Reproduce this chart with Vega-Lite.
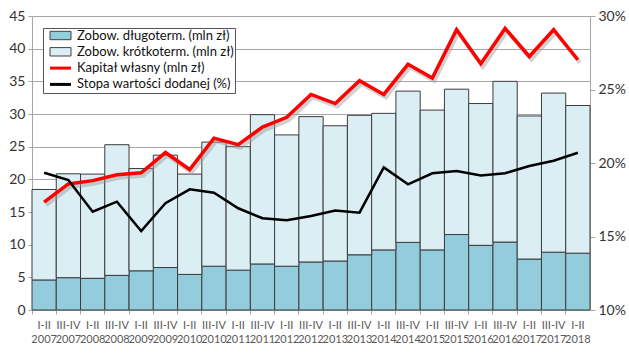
{
  "$schema": "https://vega.github.io/schema/vega-lite/v6.json",
  "width": 558,
  "height": 294,
  "autosize": {"type": "none"},
  "padding": {"left": 32, "top": 16, "right": 39, "bottom": 44},
  "background": "white",
  "config": {
    "view": {"stroke": null},
    "font": "Lato",
    "axis": {"labelFont": "Lato", "titleFont": "Lato"},
    "legend": {"labelFont": "Lato"}
  },
  "datasets": {
    "bars": [
      {"period": "I-II 2007", "series": "Zobow. długoterm. (mln zł)", "o": 0, "value": 4.6},
      {"period": "III-IV 2007", "series": "Zobow. długoterm. (mln zł)", "o": 0, "value": 4.95},
      {"period": "I-II 2008", "series": "Zobow. długoterm. (mln zł)", "o": 0, "value": 4.85},
      {"period": "III-IV 2008", "series": "Zobow. długoterm. (mln zł)", "o": 0, "value": 5.3},
      {"period": "I-II 2009", "series": "Zobow. długoterm. (mln zł)", "o": 0, "value": 6.0},
      {"period": "III-IV 2009", "series": "Zobow. długoterm. (mln zł)", "o": 0, "value": 6.5},
      {"period": "I-II 2010", "series": "Zobow. długoterm. (mln zł)", "o": 0, "value": 5.45},
      {"period": "III-IV 2010", "series": "Zobow. długoterm. (mln zł)", "o": 0, "value": 6.7},
      {"period": "I-II 2011", "series": "Zobow. długoterm. (mln zł)", "o": 0, "value": 6.1},
      {"period": "III-IV 2011", "series": "Zobow. długoterm. (mln zł)", "o": 0, "value": 7.05},
      {"period": "I-II 2012", "series": "Zobow. długoterm. (mln zł)", "o": 0, "value": 6.7},
      {"period": "III-IV 2012", "series": "Zobow. długoterm. (mln zł)", "o": 0, "value": 7.35},
      {"period": "I-II 2013", "series": "Zobow. długoterm. (mln zł)", "o": 0, "value": 7.5},
      {"period": "III-IV 2013", "series": "Zobow. długoterm. (mln zł)", "o": 0, "value": 8.45},
      {"period": "I-II 2014", "series": "Zobow. długoterm. (mln zł)", "o": 0, "value": 9.2},
      {"period": "III-IV 2014", "series": "Zobow. długoterm. (mln zł)", "o": 0, "value": 10.35},
      {"period": "I-II 2015", "series": "Zobow. długoterm. (mln zł)", "o": 0, "value": 9.2},
      {"period": "III-IV 2015", "series": "Zobow. długoterm. (mln zł)", "o": 0, "value": 11.55},
      {"period": "I-II 2016", "series": "Zobow. długoterm. (mln zł)", "o": 0, "value": 9.9},
      {"period": "III-IV 2016", "series": "Zobow. długoterm. (mln zł)", "o": 0, "value": 10.4},
      {"period": "I-II 2017", "series": "Zobow. długoterm. (mln zł)", "o": 0, "value": 7.8},
      {"period": "III-IV 2017", "series": "Zobow. długoterm. (mln zł)", "o": 0, "value": 8.85},
      {"period": "I-II 2018", "series": "Zobow. długoterm. (mln zł)", "o": 0, "value": 8.7},
      {"period": "I-II 2007", "series": "Zobow. krótkoterm. (mln zł)", "o": 1, "value": 13.85},
      {"period": "III-IV 2007", "series": "Zobow. krótkoterm. (mln zł)", "o": 1, "value": 15.9},
      {"period": "I-II 2008", "series": "Zobow. krótkoterm. (mln zł)", "o": 1, "value": 15.95},
      {"period": "III-IV 2008", "series": "Zobow. krótkoterm. (mln zł)", "o": 1, "value": 20.0},
      {"period": "I-II 2009", "series": "Zobow. krótkoterm. (mln zł)", "o": 1, "value": 15.65},
      {"period": "III-IV 2009", "series": "Zobow. krótkoterm. (mln zł)", "o": 1, "value": 17.2},
      {"period": "I-II 2010", "series": "Zobow. krótkoterm. (mln zł)", "o": 1, "value": 15.35},
      {"period": "III-IV 2010", "series": "Zobow. krótkoterm. (mln zł)", "o": 1, "value": 19.0},
      {"period": "I-II 2011", "series": "Zobow. krótkoterm. (mln zł)", "o": 1, "value": 18.9},
      {"period": "III-IV 2011", "series": "Zobow. krótkoterm. (mln zł)", "o": 1, "value": 22.85},
      {"period": "I-II 2012", "series": "Zobow. krótkoterm. (mln zł)", "o": 1, "value": 20.1},
      {"period": "III-IV 2012", "series": "Zobow. krótkoterm. (mln zł)", "o": 1, "value": 22.25},
      {"period": "I-II 2013", "series": "Zobow. krótkoterm. (mln zł)", "o": 1, "value": 20.7},
      {"period": "III-IV 2013", "series": "Zobow. krótkoterm. (mln zł)", "o": 1, "value": 21.35},
      {"period": "I-II 2014", "series": "Zobow. krótkoterm. (mln zł)", "o": 1, "value": 20.9},
      {"period": "III-IV 2014", "series": "Zobow. krótkoterm. (mln zł)", "o": 1, "value": 23.15},
      {"period": "I-II 2015", "series": "Zobow. krótkoterm. (mln zł)", "o": 1, "value": 21.4},
      {"period": "III-IV 2015", "series": "Zobow. krótkoterm. (mln zł)", "o": 1, "value": 22.25},
      {"period": "I-II 2016", "series": "Zobow. krótkoterm. (mln zł)", "o": 1, "value": 21.7},
      {"period": "III-IV 2016", "series": "Zobow. krótkoterm. (mln zł)", "o": 1, "value": 24.6},
      {"period": "I-II 2017", "series": "Zobow. krótkoterm. (mln zł)", "o": 1, "value": 21.9},
      {"period": "III-IV 2017", "series": "Zobow. krótkoterm. (mln zł)", "o": 1, "value": 24.35},
      {"period": "I-II 2018", "series": "Zobow. krótkoterm. (mln zł)", "o": 1, "value": 22.6}
    ],
    "equity": [
      {"period": "I-II 2007", "value": 16.5},
      {"period": "III-IV 2007", "value": 19.3},
      {"period": "I-II 2008", "value": 19.8},
      {"period": "III-IV 2008", "value": 20.7},
      {"period": "I-II 2009", "value": 21.0},
      {"period": "III-IV 2009", "value": 24.1},
      {"period": "I-II 2010", "value": 21.5},
      {"period": "III-IV 2010", "value": 26.3},
      {"period": "I-II 2011", "value": 25.3},
      {"period": "III-IV 2011", "value": 28.0},
      {"period": "I-II 2012", "value": 29.5},
      {"period": "III-IV 2012", "value": 33.0},
      {"period": "I-II 2013", "value": 31.6},
      {"period": "III-IV 2013", "value": 35.1},
      {"period": "I-II 2014", "value": 33.0},
      {"period": "III-IV 2014", "value": 37.6},
      {"period": "I-II 2015", "value": 35.5},
      {"period": "III-IV 2015", "value": 42.9},
      {"period": "I-II 2016", "value": 37.7},
      {"period": "III-IV 2016", "value": 43.1},
      {"period": "I-II 2017", "value": 38.8},
      {"period": "III-IV 2017", "value": 42.9},
      {"period": "I-II 2018", "value": 38.3}
    ],
    "rate": [
      {"period": "I-II 2007", "value": 19.34},
      {"period": "III-IV 2007", "value": 18.84},
      {"period": "I-II 2008", "value": 16.69},
      {"period": "III-IV 2008", "value": 17.37},
      {"period": "I-II 2009", "value": 15.37},
      {"period": "III-IV 2009", "value": 17.26},
      {"period": "I-II 2010", "value": 18.21},
      {"period": "III-IV 2010", "value": 17.98},
      {"period": "I-II 2011", "value": 16.92},
      {"period": "III-IV 2011", "value": 16.24},
      {"period": "I-II 2012", "value": 16.1},
      {"period": "III-IV 2012", "value": 16.4},
      {"period": "I-II 2013", "value": 16.76},
      {"period": "III-IV 2013", "value": 16.62},
      {"period": "I-II 2014", "value": 19.7},
      {"period": "III-IV 2014", "value": 18.55},
      {"period": "I-II 2015", "value": 19.3},
      {"period": "III-IV 2015", "value": 19.45},
      {"period": "I-II 2016", "value": 19.15},
      {"period": "III-IV 2016", "value": 19.3},
      {"period": "I-II 2017", "value": 19.8},
      {"period": "III-IV 2017", "value": 20.15},
      {"period": "I-II 2018", "value": 20.7}
    ]
  },
  "layer": [
    {
      "data": {"name": "bars"},
      "mark": {"type": "bar", "stroke": "#3c3c3c", "strokeWidth": 1},
      "encoding": {
        "x": {
          "field": "period", "type": "nominal", "sort": null,
          "scale": {"paddingInner": 0, "paddingOuter": 0},
          "axis": {
            "title": null, "labelAngle": 0,
            "labelExpr": "split(datum.value, ' ')",
            "labelFont": "Liberation Sans Narrow, Lato",
            "labelFontSize": 11, "labelColor": "#595959",
            "labelLineHeight": 14, "labelPadding": 5,
            "bandPosition": 0,
            "tickSize": 4, "tickColor": "#a6a6a6",
            "domainColor": "#a6a6a6"
          }
        },
        "y": {
          "field": "value", "type": "quantitative", "stack": "zero",
          "scale": {"domain": [0, 45], "nice": false},
          "axis": {
            "title": null, "values": [0, 5, 10, 15, 20, 25, 30, 35, 40, 45],
            "grid": true, "gridColor": "#a6a6a6",
            "domainColor": "#a6a6a6", "tickColor": "#a6a6a6", "tickSize": 4,
            "labelFontSize": 14, "labelColor": "#333333", "labelPadding": 3
          }
        },
        "order": {"field": "o", "type": "quantitative"},
        "color": {
          "field": "series", "type": "nominal",
          "scale": {
            "domain": ["Zobow. długoterm. (mln zł)", "Zobow. krótkoterm. (mln zł)", "Kapitał własny (mln zł)", "Stopa wartości dodanej (%)"],
            "range": ["#93CDDD", "#DBEEF4", "#FF0000", "#000000"]
          },
          "legend": {
            "title": null,
            "orient": "none", "legendX": 11, "legendY": 12,
            "strokeColor": "#555555", "fillColor": "white", "padding": 1,
            "labelFontSize": 13, "labelColor": "#111111", "labelLimit": 400,
            "symbolSize": 196, "symbolOffset": 10, "labelOffset": 10,
            "rowPadding": 2.3,
            "symbolType": "M-1.5,-0.6H1.5V0.6H-1.5Z",
            "symbolStrokeColor": "#404040",
            "symbolStrokeWidth": 1,
            "encode": {
              "symbols": {
                "update": {
                  "shape": {"signal": "(datum.value == 'Kapitał własny (mln zł)' || datum.value == 'Stopa wartości dodanej (%)') ? 'M-1.5,0H1.5' : 'M-1.5,-0.6H1.5V0.6H-1.5Z'"},
                  "fill": {"signal": "datum.value == 'Zobow. długoterm. (mln zł)' ? '#93CDDD' : datum.value == 'Zobow. krótkoterm. (mln zł)' ? '#DBEEF4' : 'transparent'"},
                  "stroke": {"signal": "datum.value == 'Kapitał własny (mln zł)' ? '#FF0000' : datum.value == 'Stopa wartości dodanej (%)' ? '#000000' : '#404040'"},
                  "strokeWidth": {"signal": "(datum.value == 'Kapitał własny (mln zł)' || datum.value == 'Stopa wartości dodanej (%)') ? 3 : 1"},
                  "opacity": {"value": 1}
                }
              }
            }
          }
        }
      }
    },
    {
      "data": {"name": "equity"},
      "mark": {"type": "line", "stroke": "#9a9a9a", "strokeWidth": 4, "opacity": 0.45, "xOffset": 2, "yOffset": 3},
      "encoding": {
        "x": {"field": "period", "type": "nominal", "sort": null},
        "y": {"field": "value", "type": "quantitative", "scale": {"domain": [0, 45], "nice": false}, "axis": null}
      }
    },
    {
      "data": {"name": "equity"},
      "mark": {"type": "line", "strokeWidth": 3.5, "stroke": "#FF0000"},
      "encoding": {
        "x": {"field": "period", "type": "nominal", "sort": null},
        "y": {"field": "value", "type": "quantitative", "scale": {"domain": [0, 45], "nice": false}, "axis": null}
      }
    },
    {
      "data": {"name": "rate"},
      "mark": {"type": "line", "strokeWidth": 2.5, "stroke": "#000000"},
      "encoding": {
        "x": {"field": "period", "type": "nominal", "sort": null},
        "y": {
          "field": "value", "type": "quantitative",
          "scale": {"domain": [10, 30], "nice": false},
          "axis": {
            "title": null, "orient": "right", "values": [10, 15, 20, 25, 30],
            "labelExpr": "datum.value + '%'", "grid": false,
            "domainColor": "#a6a6a6", "tickColor": "#a6a6a6", "tickSize": 5,
            "labelFontSize": 14, "labelColor": "#333333", "labelPadding": 3
          }
        }
      }
    }
  ],
  "resolve": {"scale": {"y": "independent"}}
}
